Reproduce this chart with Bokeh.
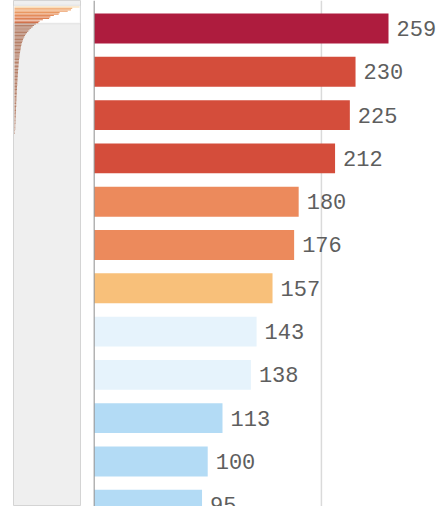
from bokeh.plotting import figure
from bokeh.models import ColumnDataSource, Range1d, Span, BoxAnnotation
from bokeh.layouts import row
from bokeh.core.properties import value
from bokeh.embed import file_html
from bokeh.resources import INLINE

# ---- main chart data (visible bars) ----
values = [259, 230, 225, 212, 180, 176, 157, 143, 138, 113, 100, 95]
colors = ["#ae1c3e", "#d44d3b", "#d44d3b", "#d44d3b", "#ec8a5c", "#ec8a5c",
          "#f8c07a", "#e6f3fc", "#e6f3fc", "#b3dbf5", "#b3dbf5", "#b3dbf5"]
labels = [str(v) for v in values]

# ---- overview (mini map) tail values beyond visible rows ----
tail_values = [85, 78, 72, 66, 60, 55, 50, 46, 42, 39, 36, 34, 32, 30, 28, 27,
               26, 25, 24, 23, 22, 21, 20, 20, 19, 18, 18, 17, 17, 16, 16, 15,
               15, 14, 14, 14, 13, 13, 12, 12, 12, 11, 11, 11, 10, 10, 10, 9,
               9, 9, 9, 8, 8, 8, 8, 7, 7, 7, 7, 6, 6, 6, 6, 5, 5, 5, 5, 4, 4,
               4, 4, 3, 3, 3, 3, 2, 2, 2]
mini_visible_colors = ["#f8d6a2", "#f2b07a", "#eea46c", "#eb9a62", "#e8925a",
                       "#e68c56", "#e38652", "#e0804e", "#dc7a4a", "#d87446",
                       "#d46e44", "#cf6a42"]
tail_color = "#a45c3c"

mini_vals = values + tail_values
mini_cols = mini_visible_colors + [tail_color] * len(tail_values)
mini_alpha = [0.95] * len(values) + [0.75] * len(tail_values)

# ---- main figure ----
src = ColumnDataSource(dict(row=list(range(len(values))), val=values,
                            color=colors, label=labels))

main = figure(width=355, height=506, output_backend="svg", toolbar_location=None,
              x_range=Range1d(-0.44, 305.6), y_range=Range1d(11.04, -0.647),
              min_border_left=7, min_border_right=0, min_border_top=0,
              min_border_bottom=0)
main.xaxis.visible = False
main.yaxis.visible = False
main.xgrid.visible = False
main.ygrid.visible = False
main.outline_line_color = None

grid200 = Span(location=200, dimension="height", line_color="#dadada",
               line_width=1.5, level="underlay")
main.add_layout(grid200)

main.hbar(y="row", left=0, right="val", height=0.69, color="color",
          line_color=None, source=src)

axis_line = Span(location=0, dimension="height", line_color="#9a9a9a",
                 line_width=1.5)
main.add_layout(axis_line)

main.text(x="val", y="row", text="label", x_offset=8, text_baseline="middle",
          text_align="left", text_font=value("Liberation Mono"),
          text_font_size="22px", text_color="#5e5e5e", source=src)

# ---- mini overview figure ----
msrc = ColumnDataSource(dict(row=list(range(len(mini_vals))), val=mini_vals,
                             color=mini_cols, alpha=mini_alpha))

mini = figure(width=86, height=506, output_backend="svg", toolbar_location=None,
              x_range=Range1d(-4, 263), y_range=Range1d(351.8, -4.58),
              min_border_left=13, min_border_right=6, min_border_top=0,
              min_border_bottom=0, background_fill_color="#efefef")
mini.xaxis.visible = False
mini.yaxis.visible = False
mini.xgrid.visible = False
mini.ygrid.visible = False
mini.outline_line_color = "#d4d4d4"

viewport = BoxAnnotation(left=-4, right=263, top=-1.0, bottom=len(values) - 0.4,
                         fill_color="white", fill_alpha=1.0,
                         line_color="#c4c4c4", line_width=1.5, level="underlay")
mini.add_layout(viewport)

mini.hbar(y="row", left=0, right="val", height=0.8, color="color",
          fill_alpha="alpha", line_color=None, source=msrc)

layout = row(mini, main)
open("out.html", "w").write(file_html(layout, INLINE))
